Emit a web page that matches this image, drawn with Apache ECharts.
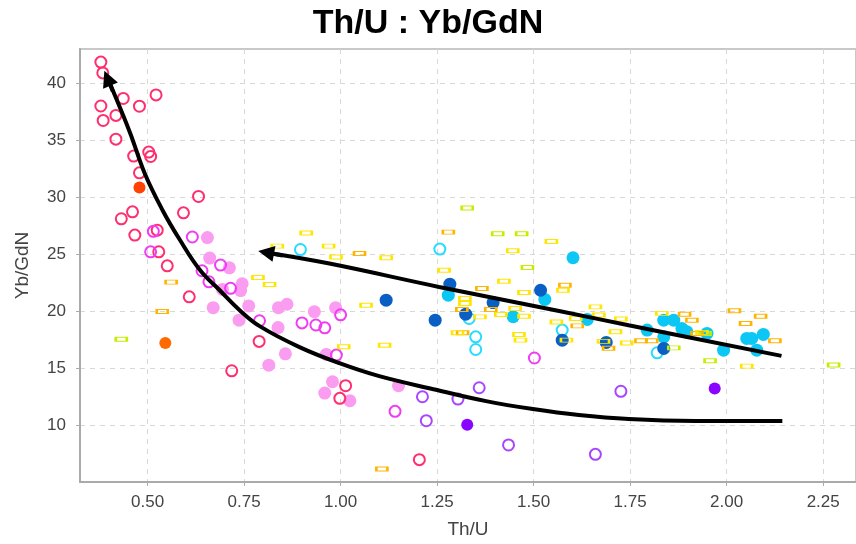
<!DOCTYPE html>
<html><head><meta charset="utf-8">
<script src="https://cdn.jsdelivr.net/npm/echarts@6/dist/echarts.min.js"></script>
<style>html,body{margin:0;padding:0;background:#fff}#c{width:856px;height:544px}</style>
</head><body><div id="c"></div>
<script>
const xTicks = [0.5, 0.75, 1.0, 1.25, 1.5, 1.75, 2.0, 2.25];
const yTicks = [10, 15, 20, 25, 30, 35, 40];

const redOpen = [[0.379,41.85],[0.384,40.9],[0.437,38.66],[0.522,38.97],[0.479,37.98],[0.379,38.0],[0.418,37.17],[0.385,36.73],[0.418,35.09],[0.464,33.6],[0.503,33.95],[0.508,33.57],[0.479,32.13],[0.632,30.06],[0.461,28.71],[0.432,28.1],[0.593,28.62],[0.467,26.67],[0.525,27.1],[0.529,25.2],[0.551,23.97],[0.608,21.25],[0.789,17.34],[0.718,14.76],[0.998,12.34],[1.013,13.45],[1.204,6.96]];
const redFilled = [[0.479,30.85]];
const orangeFilled = [[0.546,17.19]];
const pinkFilled = [[0.655,26.45],[0.661,24.65],[0.712,23.8],[0.745,22.4],[0.741,21.8],[0.694,21.9],[0.762,20.45],[0.839,20.3],[0.861,20.6],[0.932,19.95],[0.987,20.3],[0.670,20.3],[0.737,19.2],[0.838,18.55],[0.857,16.25],[0.814,15.25],[0.963,16.2],[0.979,13.8],[0.959,12.8],[1.024,12.13],[1.15,13.45]];
const magentaOpen = [[0.515,27.0],[0.616,26.5],[0.508,25.2],[0.689,24.04],[0.641,23.54],[0.659,22.57],[0.715,22.0],[0.79,19.15],[0.900,18.96],[0.936,18.78],[0.959,18.53],[1.0,19.67],[0.989,16.14],[1.141,11.2],[1.502,15.88]];
const purpleOpen = [[1.212,12.48],[1.222,10.38],[1.304,12.28],[1.359,13.27],[1.435,8.25],[1.66,7.43],[1.726,12.96]];
const purpleFilled = [[1.328,10.03],[1.969,13.2]];
const cyanOpen = [[0.896,25.4],[1.257,25.44],[1.333,19.35],[1.35,17.74],[1.35,16.63],[1.574,18.33],[1.82,16.34]];
const cyanFilled = [[1.279,21.4],[1.447,19.5],[1.529,21.02],[1.602,24.68],[1.639,19.27],[1.794,18.33],[1.837,19.2],[1.863,19.2],[1.884,18.47],[1.897,18.18],[1.837,17.74],[1.949,18.04],[1.992,16.57],[2.052,17.6],[2.065,17.6],[2.095,17.95],[2.078,16.57]];
const darkBlue = [[1.118,20.96],[1.245,19.2],[1.283,22.36],[1.324,19.73],[1.395,20.75],[1.518,21.83],[1.574,17.45],[1.688,17.25],[1.837,16.72]];
const yellowRect = [[0.911,26.85],[0.836,25.7],[0.969,25.7],[0.988,24.75],[1.118,24.68],[0.786,22.94],[0.816,22.33],[1.066,20.52],[1.008,16.87],[1.114,17.0],[1.268,23.58],[1.423,22.62],[1.475,21.63],[1.322,21.1],[1.322,20.67],[1.415,19.7],[1.361,19.49],[1.452,20.23],[1.475,19.55],[1.462,17.95],[1.466,17.45],[1.576,21.83],[1.559,19.05],[1.609,19.35],[1.66,20.37],[1.585,17.45],[1.303,18.09],[1.546,26.11],[1.446,25.29],[1.669,19.65],[1.712,18.18],[1.726,19.3],[1.681,17.34],[1.741,17.19],[1.832,19.8],[1.936,18.13],[2.052,15.17]];
const orangeRect = [[0.561,22.54],[0.538,19.97],[1.049,25.05],[1.279,26.93],[1.366,21.98],[1.314,20.14],[1.389,20.14],[1.316,18.09],[1.581,22.27],[1.613,18.7],[1.107,6.14],[1.694,16.73],[1.778,17.39],[1.806,17.39],[1.891,19.73],[1.91,19.2],[1.923,18.04],[2.02,20.02],[2.049,18.91],[2.088,19.55],[2.125,17.39]];
const limeRect = [[0.432,17.52],[1.328,29.04],[1.407,26.78],[1.469,26.78],[1.484,23.83],[1.863,16.77],[1.944,18.04],[1.957,15.64],[2.277,15.26]];

const curveLow = [[0.396,40.44],[0.4026,39.97],[0.4543,35.68],[0.493,32.05],[0.5395,28.81],[0.5835,26.26],[0.6351,23.63],[0.6868,21.83],[0.7385,20.08],[0.7902,18.68],[0.8935,16.84],[0.9969,15.43],[1.1002,14.29],[1.2501,13.07],[1.3767,12.10],[1.4982,11.40],[1.6171,10.88],[1.7463,10.53],[1.9194,10.36],[2.1442,10.35]];
const curveUp = [[0.807,25.14],[0.971,24.17],[1.255,22.12],[1.566,20.0],[1.746,18.76],[2.142,16.07]];
const headLow = [[0.41,39.3],[0.396,40.44]];
const headUp = [[0.85,24.87],[0.807,25.14]];

function circleSeries(data, color, filled, size) {
  return {
    type: 'scatter', data: data, symbol: 'circle', symbolSize: size,
    itemStyle: filled ? { color: color, opacity: 1 } :
      { color: 'rgba(255,255,255,0)', borderColor: color, borderWidth: 2, opacity: 1 },
    emphasis: { disabled: true }, silent: true
  };
}
function rectSeries(data, color) {
  return {
    type: 'scatter', data: data, symbol: 'rect', symbolSize: [11, 4],
    itemStyle: { color: 'rgba(255,255,255,0)', borderColor: color, borderWidth: 1.6, opacity: 1 },
    emphasis: { disabled: true }, silent: true, z: 3
  };
}
function curveSeries(data) {
  return { type: 'line', data: data, smooth: 0.4, symbol: 'none', showSymbol: false,
    lineStyle: { color: '#000', width: 4 }, z: 10, silent: true };
}
function headSeries(data) {
  return { type: 'lines', coordinateSystem: 'cartesian2d', symbol: ['none', 'triangle'], symbolSize: [16, 16],
    lineStyle: { color: '#000', width: 4, opacity: 1 }, data: [{ coords: data }], z: 11, silent: true };
}

const chart = echarts.init(document.getElementById('c'), null, { renderer: 'canvas' });
chart.setOption({
  backgroundColor: '#fff',
  animation: false,
  title: { text: 'Th/U : Yb/GdN', left: 'center', top: 2,
    textStyle: { fontFamily: 'Liberation Sans, Arial, sans-serif', fontSize: 34, fontWeight: 'bold', color: '#000' } },
  grid: { left: 80, right: -2, top: 49, bottom: 61, show: true, borderColor: '#c8c8c8', borderWidth: 2, backgroundColor: 'transparent' },
  xAxis: {
    type: 'value', min: 0.325, max: 2.335, name: 'Th/U', nameLocation: 'middle', nameGap: 38,
    nameTextStyle: { fontFamily: 'Liberation Sans, Arial, sans-serif', fontSize: 19, color: '#444' },
    axisLine: { lineStyle: { color: '#aaa', width: 2 } },
    axisTick: { show: true, length: 4, customValues: xTicks, lineStyle: { color: '#aaa' } },
    axisLabel: { customValues: xTicks, formatter: v => v.toFixed(2), margin: 12,
      fontFamily: 'Liberation Sans, Arial, sans-serif', fontSize: 17, color: '#444' },
    splitLine: { show: true, lineStyle: { color: '#d8d8d8', type: [5, 5], width: 1 } }
  },
  yAxis: {
    type: 'value', min: 5, max: 43, name: 'Yb/GdN', nameLocation: 'middle', nameGap: 48,
    nameTextStyle: { fontFamily: 'Liberation Sans, Arial, sans-serif', fontSize: 19, color: '#444' },
    axisLine: { show: true, lineStyle: { color: '#aaa', width: 2 } },
    axisTick: { show: true, length: 4, customValues: yTicks, lineStyle: { color: '#aaa' } },
    axisLabel: { customValues: yTicks, margin: 14,
      fontFamily: 'Liberation Sans, Arial, sans-serif', fontSize: 17, color: '#444' },
    splitLine: { show: true, lineStyle: { color: '#d8d8d8', type: [5, 5], width: 1 } }
  },
  series: [
    circleSeries(pinkFilled, '#fa9cf0', true, 13),
    circleSeries(redOpen, '#ff2f6e', false, 11),
    circleSeries(magentaOpen, '#f03cf4', false, 11),
    circleSeries(purpleOpen, '#a846ff', false, 11),
    circleSeries(purpleFilled, '#8a05ff', true, 12),
    circleSeries(redFilled, '#ff4200', true, 12),
    circleSeries(orangeFilled, '#ff6a00', true, 12),
    circleSeries(cyanOpen, '#26dcff', false, 11),
    circleSeries(cyanFilled, '#0cc6f4', true, 13),
    circleSeries(darkBlue, '#0a5fc4', true, 13),
    rectSeries(limeRect, '#c6ec00'),
    rectSeries(orangeRect, '#ffb400'),
    rectSeries(yellowRect, '#ffe600'),
    curveSeries(curveLow),
    curveSeries(curveUp),
    headSeries(headLow),
    headSeries(headUp)
  ]
});
</script></body></html>
